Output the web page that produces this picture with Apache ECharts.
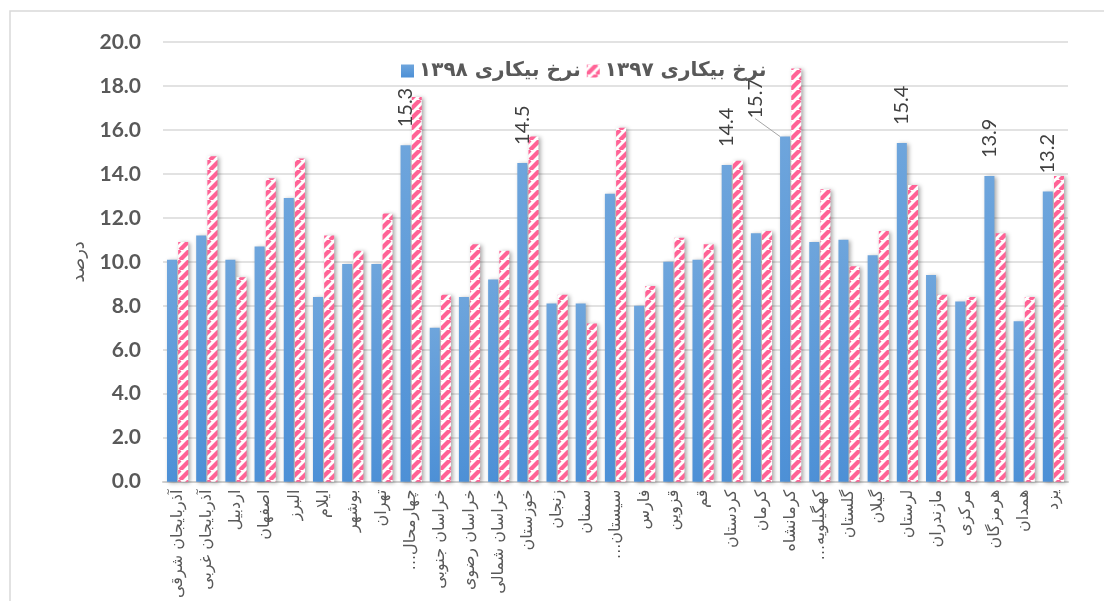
<!DOCTYPE html>
<html>
<head>
<meta charset="utf-8">
<script src="https://cdn.jsdelivr.net/npm/echarts@6/dist/echarts.min.js"></script>
<style>
html,body{margin:0;padding:0;background:#fff;}
#c{width:1104px;height:601px;}
</style>
</head>
<body>
<div id="c"></div>
<script>
const categories = ['آذربایجان شرقی','آذربایجان غربی','اردبیل','اصفهان','البرز','ایلام','بوشهر','تهران','چهارمحال...','خراسان جنوبی','خراسان رضوی','خراسان شمالی','خوزستان','زنجان','سمنان','سیستان...','فارس','قزوین','قم','کردستان','کرمان','کرمانشاه','کهگیلویه...','گلستان','گیلان','لرستان','مازندران','مرکزی','هرمزگان','همدان','یزد'];
const rate1398 = [10.1,11.2,10.1,10.7,12.9,8.4,9.9,9.9,15.3,7.0,8.4,9.2,14.5,8.1,8.1,13.1,8.0,10.0,10.1,14.4,11.3,15.7,10.9,11.0,10.3,15.4,9.4,8.2,13.9,7.3,13.2];
const rate1397 = [10.9,14.8,9.3,13.8,14.7,11.2,10.5,12.2,17.5,8.5,10.8,10.5,15.7,8.5,7.2,16.1,8.9,11.1,10.8,14.6,11.4,18.8,13.3,9.8,11.4,13.5,8.5,8.4,11.3,8.4,13.9];
const labelledIdx = [8,12,19,21,25,28,30];
const movedLabelIdx = 21;
const seriesNames = ['نرخ بیکاری ۱۳۹۸','نرخ بیکاری ۱۳۹۷'];
const yAxisName = 'درصد';

// hatched pattern
const s = 10;
const pc = document.createElement('canvas');
pc.width = s; pc.height = s;
const px = pc.getContext('2d');
px.fillStyle = '#ffffff';
px.fillRect(0,0,s,s);
px.strokeStyle = '#ff6396';
px.lineWidth = 4.2;
for (let k=-1;k<=1;k++){
  px.beginPath();
  px.moveTo(k*s, s);
  px.lineTo(k*s + s, 0);
  px.stroke();
}

const chart = echarts.init(document.getElementById('c'));
const blueData = rate1398.map((v,i) => {
  if (!labelledIdx.includes(i)) return v;
  const item = {value:v, label:{show:true}};
  if (i === movedLabelIdx) {
    item.label.offset = [0, -30];
    item.labelLine = {show:true, lineStyle:{color:'#a6a6a6', width:1}};
  }
  return item;
});

const option = {
  animation:false,
  backgroundColor:'#ffffff',
  graphic:[{type:'rect', shape:{x:10,y:11,width:1200,height:700}, style:{fill:'none', stroke:'#d9d9d9', lineWidth:1.5}, silent:true}],
  legend:{
    top:56, left:396,
    itemWidth:13, itemHeight:13, itemGap:6,
    icon:'rect',
    textStyle:{fontSize:20, fontWeight:'bold', color:'#595959', fontFamily:'DejaVu Sans'},
    data:seriesNames
  },
  grid:{left:163, right:36, top:42, bottom:119},
  xAxis:{
    type:'category',
    data:categories,
    axisTick:{show:false},
    axisLine:{lineStyle:{color:'#d0d0d0', width:2}},
    axisLabel:{
      interval:0, rotate:90, margin:8,
      fontSize:16, color:'#595959', fontFamily:'DejaVu Sans',
      formatter: v => v.endsWith('...') ? '...' + v.slice(0,-3) : v
    }
  },
  yAxis:{
    type:'value', min:0, max:20, interval:2,
    name:yAxisName, nameLocation:'middle', nameGap:70, nameRotate:90,
    nameTextStyle:{fontSize:18, color:'#595959', fontFamily:'DejaVu Sans'},
    axisLabel:{fontSize:21, fontWeight:'bold', color:'#595959', fontFamily:'Lato', margin:22, formatter:v => v.toFixed(1)},
    splitLine:{lineStyle:{color:'#d9d9d9', width:1.5}},
    axisLine:{show:false}, axisTick:{show:false}
  },
  series:[
    {
      name:seriesNames[0], type:'bar', data:blueData,
      barWidth:10, barGap:'12%',
      itemStyle:{
        color:{type:'linear',x:0,y:0,x2:0,y2:1,colorStops:[{offset:0,color:'#6ea5dc'},{offset:1,color:'#4d90d6'}]},
        shadowColor:'rgba(0,0,0,0.35)', shadowBlur:4, shadowOffsetX:2, shadowOffsetY:1
      },
      label:{
        show:false, position:'top', rotate:90, align:'left', verticalAlign:'middle', distance:18,
        fontSize:20, color:'#404040', fontFamily:'Lato',
        formatter:p => Number(p.value).toFixed(1)
      }
    },
    {
      name:seriesNames[1], type:'bar', data:rate1397,
      barWidth:10,
      itemStyle:{
        color:{image:pc, repeat:'repeat'},
        shadowColor:'rgba(0,0,0,0.35)', shadowBlur:4, shadowOffsetX:2, shadowOffsetY:1
      }
    }
  ]
};
chart.setOption(option);
</script>
</body>
</html>
